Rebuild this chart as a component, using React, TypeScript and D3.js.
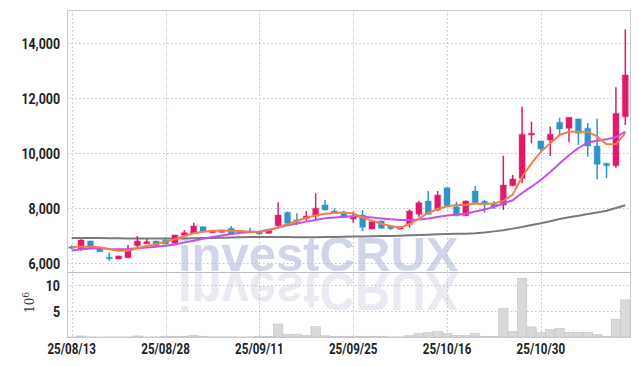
import * as d3 from "d3";
import { useRef, useEffect } from "react";

// trading days (yy/mm/dd)
const dates = [
  "25/08/13", "25/08/14", "25/08/18", "25/08/19", "25/08/20", "25/08/21", "25/08/22", "25/08/25", "25/08/26", "25/08/27",
  "25/08/28", "25/08/29", "25/09/01", "25/09/02", "25/09/03", "25/09/04", "25/09/05", "25/09/08", "25/09/09", "25/09/10",
  "25/09/11", "25/09/12", "25/09/15", "25/09/16", "25/09/17", "25/09/18", "25/09/19", "25/09/22", "25/09/23", "25/09/24",
  "25/09/25", "25/09/26", "25/09/29", "25/09/30", "25/10/01", "25/10/02", "25/10/10", "25/10/13", "25/10/14", "25/10/15",
  "25/10/16", "25/10/17", "25/10/20", "25/10/21", "25/10/22", "25/10/23", "25/10/24", "25/10/27", "25/10/28", "25/10/29",
  "25/10/30", "25/10/31", "25/11/03", "25/11/04", "25/11/05", "25/11/06", "25/11/07", "25/11/10", "25/11/11", "25/11/12",
];

const open = [
  6590, 6510, 6800, 6509, 6210, 6145, 6193, 6629, 6702, 6800,
  6836, 6716, 7018, 7080, 7320, 7100, 7116, 7262, 7175, 7150,
  7138, 7080, 7356, 7843, 7570, 7625, 7709, 8109, 7890, 7810,
  7600, 7745, 7236, 7527, 7345, 7236, 7407, 7771, 8254, 7927,
  8738, 8048, 7720, 8618, 8240, 8134, 8109, 8811, 9080, 10655,
  10436, 10473, 11116, 10898, 11236, 10898, 10255, 9625, 9538, 11320,
];
const high = [
  6640, 6862, 6810, 6520, 6375, 6270, 6655, 6982, 6884, 6810,
  6934, 7030, 7200, 7465, 7340, 7190, 7210, 7345, 7190, 7284,
  7150, 7210, 8207, 7870, 7807, 7890, 8534, 8290, 7990, 7900,
  7866, 7927, 7520, 7540, 7360, 7330, 7953, 8266, 8618, 8618,
  8750, 8229, 8270, 8800, 8291, 8255, 9902, 9200, 11684, 11138,
  10450, 10956, 11284, 11300, 11250, 11080, 11248, 9640, 12389, 14498,
];
const low = [
  6500, 6447, 6520, 6400, 6084, 6130, 6180, 6556, 6690, 6620,
  6680, 6700, 6956, 7060, 7120, 7090, 7100, 7040, 7090, 7080,
  7040, 7060, 7298, 7430, 7382, 7538, 7563, 7910, 7790, 7640,
  7465, 7164, 7220, 7250, 7200, 7220, 7284, 7683, 7760, 7890,
  8070, 7700, 7710, 8180, 7830, 7964, 7927, 8790, 8898, 10353,
  10000, 9891, 10655, 10389, 10291, 9866, 9043, 9080, 9466, 11018,
];
const close = [
  6540, 6836, 6534, 6411, 6180, 6255, 6498, 6800, 6775, 6629,
  6690, 7018, 7102, 7345, 7138, 7170, 7200, 7055, 7102, 7130,
  7055, 7200, 7745, 7444, 7555, 7709, 7989, 7927, 7807, 7650,
  7709, 7298, 7502, 7262, 7250, 7320, 7890, 8193, 7771, 8473,
  8084, 7720, 8254, 8193, 8220, 8048, 8836, 9054, 10680, 10716,
  10145, 10680, 10873, 11298, 10716, 10255, 9589, 9538, 11443, 12836,
];

// volume in millions of shares
const volume = [
  0.02, 0.2, 0.02, 0.02, 0.02, 0.02, 0.02, 0.2, 0.02, 0.02,
  0.15, 0.15, 0.15, 0.35, 0.15, 0.03, 0.03, 0.03, 0.03, 0.03,
  0.1, 0.15, 2.5, 0.55, 0.55, 0.3, 2.0, 0.25, 0.15, 0.15,
  0.15, 0.15, 0.15, 0.15, 0.03, 0.03, 0.25, 0.65, 0.85, 1.05,
  0.65, 0.33, 0.33, 0.65, 0.13, 0.13, 5.5, 1.05, 11.4, 1.95,
  0.85, 1.45, 1.65, 0.9, 0.9, 0.9, 0.52, 0.13, 3.45, 7.2,
];

// moving averages
const ma5 = [
  6582, 6593, 6593, 6571, 6498, 6447, 6447, 6535, 6618, 6691,
  6775, 6862, 6982, 7080, 7138, 7175, 7175, 7175, 7164, 7138,
  7138, 7189, 7291, 7411, 7527, 7647, 7727, 7793, 7818, 7836,
  7800, 7655, 7542, 7429, 7345, 7284, 7418, 7611, 7818, 7964,
  8060, 8109, 8109, 8164, 8145, 8164, 8260, 8490, 9138, 9625,
  10047, 10353, 10655, 10775, 10775, 10775, 10593, 10316, 10327, 10716,
];
const ma20 = [
  6455, 6498, 6527, 6535, 6509, 6498, 6509, 6535, 6567, 6589,
  6625, 6669, 6742, 6811, 6884, 6945, 7000, 7058, 7102, 7127,
  7138, 7214, 7287, 7375, 7440, 7505, 7567, 7625, 7655, 7680,
  7702, 7680, 7658, 7622, 7589, 7564, 7564, 7585, 7618, 7673,
  7727, 7756, 7789, 7873, 7945, 8040, 8164, 8280, 8545, 8775,
  9018, 9309, 9618, 9916, 10182, 10382, 10447, 10498, 10571, 10775,
];
const ma60 = [
  6910, 6910, 6905, 6905, 6900, 6900, 6895, 6895, 6895, 6895,
  6895, 6895, 6895, 6900, 6905, 6910, 6920, 6930, 6940, 6945,
  6950, 6950, 6950, 6945, 6940, 6940, 6940, 6945, 6950, 6955,
  6960, 6965, 6975, 6980, 6985, 6993, 7005, 7018, 7030, 7043,
  7055, 7062, 7068, 7080, 7110, 7150, 7190, 7250, 7312, 7380,
  7444, 7520, 7600, 7660, 7720, 7780, 7840, 7900, 8000, 8100,
];

const priceTicks = [6000, 8000, 10000, 12000, 14000];
const volumeTicks = [5, 10];
const dateTicks = ["25/08/13", "25/08/28", "25/09/11", "25/09/25", "25/10/16", "25/10/30"];

const W = 639;
const H = 366;

export default function App() {
  const svgRef = useRef<SVGSVGElement>(null);

  useEffect(() => {
    if (!svgRef.current) return;
    const svg = d3.select(svgRef.current);
    svg.selectAll("*").remove();

    const left = 67, right = 630, top = 10, split = 272, bottom = 337;
    const upColor = "#e2196b";
    const downColor = "#2f94c6";
    const gridColor = "#bcc0da";
    const labelFont = "Roboto, 'DejaVu Sans', sans-serif";

    const x = d3.scaleBand<string>().domain(dates).range([left, right]);
    const cx = (i: number) => x(dates[i])! + x.bandwidth() / 2;
    const y = d3.scaleLinear().domain([5673, 15200]).range([split, top]);
    const yv = d3.scaleLinear().domain([0, 12.6]).range([bottom, split]);

    const defs = svg.append("defs");
    defs.append("clipPath").attr("id", "clip-price")
      .append("rect").attr("x", left).attr("y", top).attr("width", right - left).attr("height", split - top);
    defs.append("clipPath").attr("id", "clip-vol")
      .append("rect").attr("x", left).attr("y", split).attr("width", right - left).attr("height", bottom - split);

    svg.append("rect").attr("width", W).attr("height", H).attr("fill", "#fff");

    // --- 1. watermark + reflection ---
    const wm = "investCRUX";
    const wmBase = 271;
    svg.append("text")
      .attr("x", 178).attr("y", wmBase)
      .attr("clip-path", "url(#clip-price)")
      .attr("font-family", "'Liberation Sans', Arial, sans-serif")
      .attr("font-weight", "bold").attr("font-size", 49)
      .attr("fill", "#d0d5ea")
      .text(wm);
    // mirrored copy: baseline flipped to just under the panel split
    const s = 1.08;
    svg.append("g").attr("clip-path", "url(#clip-vol)")
      .append("text")
      .attr("transform", `translate(0,${split + 1 + s * wmBase}) scale(1,${-s})`)
      .attr("x", 178).attr("y", wmBase)
      .attr("font-family", "'Liberation Sans', Arial, sans-serif")
      .attr("font-weight", "bold").attr("font-size", 49)
      .attr("fill", "#e9eaf2")
      .text(wm);

    // --- 2. grid ---
    const grid = svg.append("g")
      .attr("stroke", gridColor).attr("stroke-width", 1).attr("stroke-dasharray", "1.5,2.5");
    grid.selectAll(".hp").data(priceTicks).enter().append("line")
      .attr("x1", left).attr("x2", right)
      .attr("y1", (d) => Math.round(y(d)) + 0.5).attr("y2", (d) => Math.round(y(d)) + 0.5);
    grid.selectAll(".hv").data(volumeTicks).enter().append("line")
      .attr("x1", left).attr("x2", right)
      .attr("y1", (d) => Math.round(yv(d)) + 0.5).attr("y2", (d) => Math.round(yv(d)) + 0.5);
    grid.selectAll(".vx").data(dateTicks).enter().append("line")
      .attr("x1", (d) => Math.round(cx(dates.indexOf(d))) + 0.5)
      .attr("x2", (d) => Math.round(cx(dates.indexOf(d))) + 0.5)
      .attr("y1", top).attr("y2", bottom);

    // --- 3. volume bars ---
    svg.append("g").attr("clip-path", "url(#clip-vol)")
      .selectAll("rect").data(volume).enter().append("rect")
      .attr("x", (_, i) => x(dates[i])!)
      .attr("width", x.bandwidth())
      .attr("y", (d) => yv(d))
      .attr("height", (d) => bottom - yv(d))
      .attr("fill", "#d9d9dc")
      .attr("stroke", "#c4c4c8")
      .attr("stroke-width", 0.6);

    // --- 4. long MA (behind candles) ---
    const line = (vals: number[]) =>
      d3.line<number>().x((_, i) => cx(i)).y((d) => y(d))(vals);
    const back = svg.append("g").attr("clip-path", "url(#clip-price)").attr("fill", "none");
    back.append("path").attr("d", line(ma60)).attr("stroke", "#7a7a7a").attr("stroke-width", 2);

    // --- 5. candles ---
    const idx = d3.range(dates.length);
    const candles = svg.append("g").attr("clip-path", "url(#clip-price)")
      .selectAll("g").data(idx).enter().append("g");
    const col = (i: number) => (close[i] >= open[i] ? upColor : downColor);
    candles.append("line")
      .attr("x1", (i) => cx(i)).attr("x2", (i) => cx(i))
      .attr("y1", (i) => y(high[i])).attr("y2", (i) => y(low[i]))
      .attr("stroke", col).attr("stroke-width", 1.5);
    const bw = 6;
    candles.append("rect")
      .attr("x", (i) => cx(i) - bw / 2)
      .attr("width", bw)
      .attr("y", (i) => y(Math.max(open[i], close[i])))
      .attr("height", (i) => Math.max(1.5, Math.abs(y(open[i]) - y(close[i]))))
      .attr("fill", col)
      .attr("stroke", col).attr("stroke-opacity", 0.25).attr("stroke-width", 1.5);

    // --- 6. short MAs ---
    const front = svg.append("g").attr("clip-path", "url(#clip-price)").attr("fill", "none");
    front.append("path").attr("d", line(ma20)).attr("stroke", "#c84fe8").attr("stroke-width", 2);
    front.append("path").attr("d", line(ma5)).attr("stroke", "#f08048").attr("stroke-width", 2);

    // --- 7. frame ---
    const frame = svg.append("g").attr("stroke", "#c9c9d2").attr("stroke-width", 1).attr("fill", "none");
    frame.append("rect").attr("x", left + 0.5).attr("y", top + 0.5)
      .attr("width", right - left).attr("height", bottom - top);
    frame.append("line").attr("x1", left).attr("x2", right)
      .attr("y1", split + 0.5).attr("y2", split + 0.5).attr("stroke", "#bdbdc4");

    // --- 8. labels (condensed by squeezing the glyphs) ---
    const squeeze = function (this: SVGTextElement) {
      const w = this.getComputedTextLength();
      this.setAttribute("textLength", String(w * 0.8));
      this.setAttribute("lengthAdjust", "spacingAndGlyphs");
    };
    svg.append("g").selectAll("text").data(priceTicks).enter().append("text")
      .attr("x", 60).attr("y", (d) => y(d)).attr("dy", "0.36em")
      .attr("text-anchor", "end")
      .attr("font-family", labelFont).attr("font-weight", "bold").attr("font-size", 15.5)
      .attr("fill", "#222")
      .text((d) => d3.format(",")(d))
      .each(squeeze);
    svg.append("g").selectAll("text").data(volumeTicks).enter().append("text")
      .attr("x", 60).attr("y", (d) => yv(d)).attr("dy", "0.36em")
      .attr("text-anchor", "end")
      .attr("font-family", labelFont).attr("font-weight", "bold").attr("font-size", 15.5)
      .attr("fill", "#222")
      .text((d) => d)
      .each(squeeze);
    const unit = svg.append("text")
      .attr("transform", `translate(34,${(split + bottom) / 2 - 2}) rotate(-90)`)
      .attr("text-anchor", "middle")
      .attr("font-family", "'DejaVu Serif', serif").attr("font-size", 12).attr("fill", "#333");
    unit.append("tspan").text("10");
    unit.append("tspan").attr("dy", -5).attr("font-size", 9).text("6");

    svg.append("g").selectAll("text").data(dateTicks).enter().append("text")
      .attr("x", (d) => cx(dates.indexOf(d)))
      .attr("y", 354)
      .attr("text-anchor", "middle")
      .attr("font-family", labelFont).attr("font-weight", "bold").attr("font-size", 14.5)
      .attr("fill", "#222")
      .text((d) => d)
      .each(squeeze);
  }, []);

  return (
    <svg
      ref={svgRef}
      width={W}
      height={H}
      style={{ position: "absolute", left: 0, top: 0, display: "block" }}
    />
  );
}
